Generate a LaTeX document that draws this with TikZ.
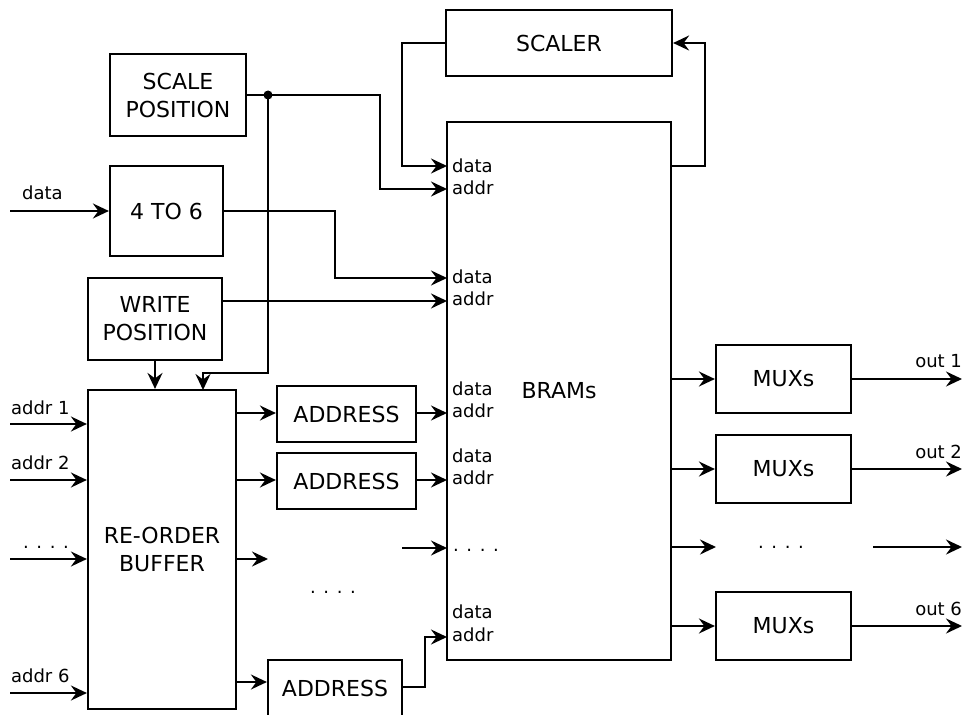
\documentclass[tikz,border=0pt]{standalone}
\usepackage{fontspec}
\setmainfont{DejaVu Sans}
\usetikzlibrary{arrows.meta}

\begin{document}
\begin{tikzpicture}[x=1pt,y=-1pt,
  line width=2.2pt,
  box/.style={draw, rectangle, inner sep=0pt, align=center,
              font=\fontsize{22}{28}\selectfont},
  lbl/.style={inner sep=0pt, font=\fontsize{18}{22}\selectfont},
  arr/.style={-{Stealth[length=16pt,width=15pt,inset=5.5pt]}}]
\useasboundingbox (0,0) rectangle (968,714);

% main blocks
\node[box, minimum width=226, minimum height=66]  (scaler)   at (559,43)    {SCALER};
\node[box, minimum width=224, minimum height=538] (bram)     at (559,391)   {BRAMs};
\node[box, minimum width=136, minimum height=82]  (scalepos) at (178,95)    {SCALE\\POSITION};
\node[box, minimum width=113, minimum height=90]  (fourtosix) at (166.5,211) {4 TO 6};
\node[box, minimum width=134, minimum height=82]  (writepos) at (155,319)   {WRITE\\POSITION};
\node[box, minimum width=148, minimum height=319] (rob)      at (162,549.5) {RE-ORDER\\BUFFER};
\node[box, minimum width=139, minimum height=56]  (addra)    at (346.5,414) {ADDRESS};
\node[box, minimum width=139, minimum height=56]  (addrb)    at (346.5,481) {ADDRESS};
\node[box, minimum width=134, minimum height=56]  (addrc)    at (335,688)   {ADDRESS};
\node[box, minimum width=135, minimum height=68]  (muxa)     at (783.5,379) {MUXs};
\node[box, minimum width=135, minimum height=68]  (muxb)     at (783.5,469) {MUXs};
\node[box, minimum width=135, minimum height=68]  (muxc)     at (783.5,626) {MUXs};

% BRAM input pins
\coordinate (p1d) at (447,166);
\coordinate (p1a) at (447,189);
\coordinate (p2d) at (447,278);
\coordinate (p2a) at (447,301);
\coordinate (p3a) at (447,413);
\coordinate (p4a) at (447,480);
\coordinate (p5a) at (447,637);
\coordinate (pdt) at (447,548);

% BRAM pin labels
\node[lbl, anchor=base west] (l1d) at (451,172) {data};
\node[lbl, anchor=base west] (l1a) at (451,194) {addr};
\node[lbl, anchor=base west] (l2d) at (451,283) {data};
\node[lbl, anchor=base west] (l2a) at (451,305) {addr};
\node[lbl, anchor=base west] (l3d) at (451,395) {data};
\node[lbl, anchor=base west] (l3a) at (451,417) {addr};
\node[lbl, anchor=base west] (l4d) at (451,462) {data};
\node[lbl, anchor=base west] (l4a) at (451,484) {addr};
\node[lbl, anchor=base west] (ldt) at (452,551) {. . . .};
\node[lbl, anchor=base west] (l5d) at (451,618) {data};
\node[lbl, anchor=base west] (l5a) at (451,641) {addr};

% data input
\coordinate (datain) at (10,211);
\node[lbl, anchor=base west] (datalbl) at (21,200) {data};
\draw[arr] (datain) -- (fourtosix.west);

% scale position: to BRAM address and to the re-order buffer
\coordinate (junc) at (268,95);
\draw[arr] (scalepos.east) -- (380,95) -- (380,189) -- (p1a);
\fill (junc) circle (4.5pt);
\draw[arr] (junc) -- (268,373) -- (203,373) -- (203,390);

% scaler loop
\draw[arr] (scaler.west) -- (402,43) -- (402,166) -- (p1d);
\draw[arr] (bram.east |- p1d) -- (705,166) -- (705,43) -- (scaler.east);

% 4 to 6 and write position
\draw[arr] (fourtosix.east) -- (335,211) -- (335,278) -- (p2d);
\draw[arr] (writepos.east |- p2a) -- (p2a);
\draw[arr] (writepos.south) -- (writepos.south |- rob.north);

% address inputs
\coordinate (ain1) at (10,424);
\coordinate (ain2) at (10,480);
\coordinate (ain3) at (10,559);
\coordinate (ain6) at (10,693);
\node[lbl, anchor=base west] (al1) at (10,414) {addr 1};
\node[lbl, anchor=base west] (al2) at (10,469) {addr 2};
\node[lbl, anchor=base west] (al3) at (22,548) {. . . .};
\node[lbl, anchor=base west] (al6) at (10,682) {addr 6};
\draw[arr] (ain1) -- (rob.west |- ain1);
\draw[arr] (ain2) -- (rob.west |- ain2);
\draw[arr] (ain3) -- (rob.west |- ain3);
\draw[arr] (ain6) -- (rob.west |- ain6);

% re-order buffer outputs
\coordinate (robdt) at (268,559);
\draw[arr] (rob.east |- p3a) -- (addra.west |- p3a);
\draw[arr] (rob.east |- p4a) -- (addrb.west |- p4a);
\draw[arr] (rob.east |- robdt) -- (robdt);
\draw[arr] (rob.east |- 0,682) -- (addrc.west |- 0,682);
\node[lbl, anchor=base] (middots) at (333,593) {. . . .};

% address generators to BRAMs
\coordinate (srcdt) at (402,548);
\draw[arr] (addra.east |- p3a) -- (p3a);
\draw[arr] (addrb.east |- p4a) -- (p4a);
\draw[arr] (srcdt) -- (pdt);
\draw[arr] (addrc.east |- 0,687) -- (425,687) -- (425,637) -- (p5a);

% BRAM outputs to multiplexers
\coordinate (mdt) at (716,547);
\draw[arr] (bram.east |- muxa.west) -- (muxa.west);
\draw[arr] (bram.east |- muxb.west) -- (muxb.west);
\draw[arr] (bram.east |- mdt) -- (mdt);
\draw[arr] (bram.east |- muxc.west) -- (muxc.west);
\node[lbl, anchor=base] (rdots) at (781,548) {. . . .};

% outputs
\coordinate (o1) at (962,379);
\coordinate (o2) at (962,469);
\coordinate (odt) at (962,547);
\coordinate (odtsrc) at (873,547);
\coordinate (o6) at (962,626);
\draw[arr] (muxa.east) -- (o1);
\draw[arr] (muxb.east) -- (o2);
\draw[arr] (odtsrc) -- (odt);
\draw[arr] (muxc.east) -- (o6);
\node[lbl, anchor=base east] (ol1) at (963,367) {out 1};
\node[lbl, anchor=base east] (ol2) at (963,458) {out 2};
\node[lbl, anchor=base east] (ol6) at (963,615) {out 6};
\end{tikzpicture}
\end{document}
